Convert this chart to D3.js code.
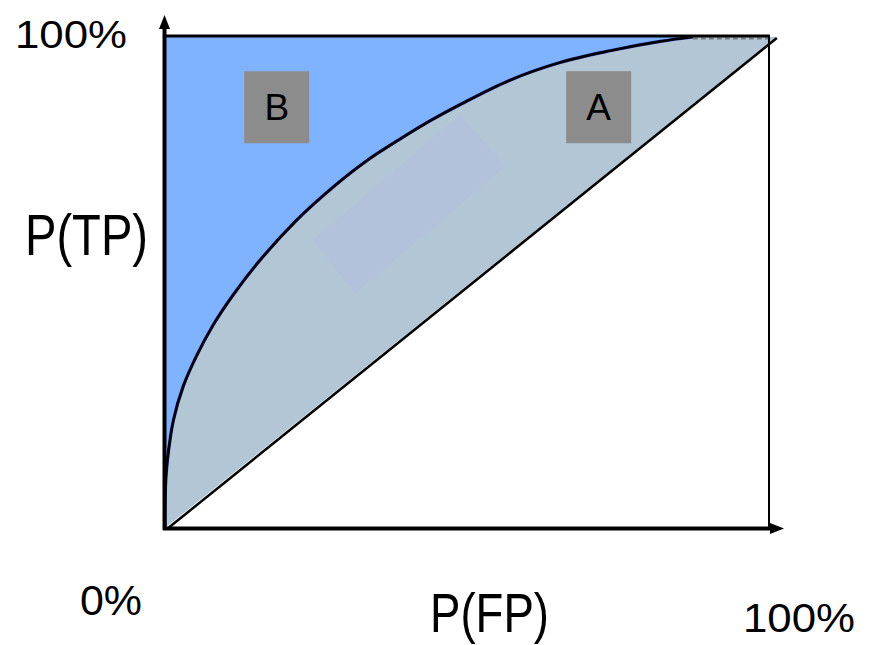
<!DOCTYPE html>
<html><head><meta charset="utf-8">
<script src="https://cdn.jsdelivr.net/npm/d3@7"></script>
<style>body{margin:0;background:#fff}svg{display:block}text{font-family:"Liberation Sans",Arial,sans-serif;fill:#000}</style>
</head><body>
<script>
// ROC curve points (FPR, TPR)
const fpr = [0, 0.001, 0.004, 0.014, 0.030, 0.052, 0.079, 0.113, 0.157, 0.218, 0.278, 0.334, 0.389, 0.440, 0.488, 0.571, 0.654, 0.737, 0.820, 0.874];
const tpr = [0, 0.090, 0.138, 0.220, 0.288, 0.350, 0.412, 0.475, 0.545, 0.627, 0.694, 0.748, 0.792, 0.830, 0.862, 0.912, 0.948, 0.972, 0.991, 1.000];
const chanceX = [0, 1.013];
const chanceY = [0, 1];
const regionLabels = ["B", "A"];
const regionLabelX = [0.185, 0.718];
const regionLabelY = [0.857, 0.857];
const axisLabels = {y: "P(TP)", x: "P(FP)", min: "0%", max: "100%"};

const W = 869, H = 645;
const svg = d3.select("body").append("svg").attr("width", W).attr("height", H);
const x = d3.scaleLinear().domain([0, 1]).range([165, 769]);
const y = d3.scaleLinear().domain([0, 1]).range([528, 37]);

const curve = fpr.map((f, i) => [f, tpr[i]]);
const smooth = d3.line().x(d => x(d[0])).y(d => y(d[1])).curve(d3.curveCatmullRom.alpha(0.5));
const curvePath = smooth(curve);

// Region B: above the curve (blue)
svg.append("path")
  .attr("d", curvePath + "L" + x(1) + "," + y(1) + "L" + x(0) + "," + y(1) + "Z")
  .attr("fill", "#80b3ff");

// Region A: between curve and chance diagonal
svg.append("path")
  .attr("d", curvePath + "L" + x(1) + "," + y(1) + "L" + x(chanceX[1]) + "," + y(chanceY[1]) + "L" + x(0) + "," + y(0) + "Z")
  .attr("fill", "#b3c6d6");

// faint rotated rectangle highlight
const rc = [[0.489,0.842],[0.563,0.736],[0.315,0.478],[0.244,0.586]];
svg.append("path")
  .attr("d", d3.line().x(d => x(d[0])).y(d => y(d[1]))(rc) + "Z")
  .attr("fill", "#b3c0da").attr("opacity", 0.9);

// chance diagonal
svg.append("line")
  .attr("x1", x(chanceX[0]) + 2).attr("y1", y(chanceY[0]) + 1)
  .attr("x2", x(chanceX[1])).attr("y2", y(chanceY[1]) + 1)
  .attr("stroke", "#000").attr("stroke-width", 2.5);

// ROC curve
svg.append("path").attr("d", curvePath).attr("fill", "none")
  .attr("stroke", "#1a1a70").attr("stroke-width", 3.2);
svg.append("path").attr("d", curvePath).attr("fill", "none")
  .attr("stroke", "#000").attr("stroke-width", 2.2);
// dashed continuation
svg.append("line").attr("x1", x(fpr[fpr.length-1])).attr("y1", y(1) + 1.5)
  .attr("x2", x(1)).attr("y2", y(1) + 1.5)
  .attr("stroke", "#777").attr("stroke-width", 2).attr("stroke-dasharray", "5,3");

// frame: top and right lines
svg.append("line").attr("x1", x(0)).attr("y1", y(1) - 1).attr("x2", x(1) + 1).attr("y2", y(1) - 1)
  .attr("stroke", "#000").attr("stroke-width", 3);
svg.append("line").attr("x1", x(1)).attr("y1", y(1) - 2).attr("x2", x(1)).attr("y2", y(0))
  .attr("stroke", "#000").attr("stroke-width", 2);

// axes with arrows
svg.append("line").attr("x1", 164.5).attr("y1", 530).attr("x2", 164.5).attr("y2", 26)
  .attr("stroke", "#000").attr("stroke-width", 4);
svg.append("path").attr("d", "M164.5,15 L170,29 L159,29 Z").attr("fill", "#000");
svg.append("line").attr("x1", 163).attr("y1", 528.5).attr("x2", 772).attr("y2", 528.5)
  .attr("stroke", "#000").attr("stroke-width", 4);
svg.append("path").attr("d", "M784,528.5 L770,523 L770,534 Z").attr("fill", "#000");

// region label boxes
regionLabels.forEach((lab, i) => {
  const cx = x(regionLabelX[i]), cy = y(regionLabelY[i]);
  svg.append("rect").attr("x", cx - 32.5).attr("y", cy - 36).attr("width", 65).attr("height", 72)
    .attr("fill", "#8c8c8c");
  svg.append("text").attr("x", cx).attr("y", cy + 13).attr("text-anchor", "middle")
    .attr("font-size", 37).text(lab);
});

// axis texts
function label(t, xx, yy, fs, len) {
  svg.append("text").attr("x", xx).attr("y", yy).attr("font-size", fs)
    .attr("textLength", len).attr("lengthAdjust", "spacingAndGlyphs").text(t);
}
label(axisLabels.max, 15, 48, 39, 112);
label(axisLabels.y, 25, 255, 58, 123);
label(axisLabels.min, 80, 615, 42, 62);
label(axisLabels.x, 430, 632, 56, 119);
label(axisLabels.max, 743, 632, 41, 112);
</script>
</body></html>
